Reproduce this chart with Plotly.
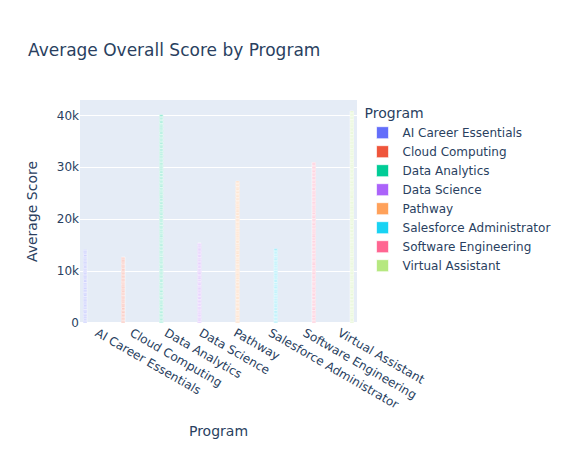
import pandas as pd
import plotly.express as px

programs = ["AI Career Essentials", "Cloud Computing", "Data Analytics", "Data Science",
            "Pathway", "Salesforce Administrator", "Software Engineering", "Virtual Assistant"]

ai_scores = [137,163,152,148,171,129,118,182,145,155, 160,140,127,173,149,151,188,112,134,166,
             142,158,176,124,131,169,155,145,109,191, 168,132,147,153,121,179,139,161,184,116,
             126,174,159,141,193,107,143,157,162,138, 151,149,115,185,178,122,136,164,147,153,
             183,117,140,160,129,171,157,143,119,181, 133,167,172,128,146,154,111,189,165,135,
             154,146,124,176,161,139,187,113,138,162, 119,181,163,137]
cc_scores = [144,156,170,130,128,172,175,125,135,165, 158,142,113,187,150,150,141,159,186,114,
             123,177,148,152,167,133,164,136,117,183, 152,148,139,161,179,121,128,172,155,145,
             174,126,132,168,146,154,147,153,169,131, 108,192,161,139,136,164,189,111,130,170,
             166,134,144,156,122,178,135,165,178,122, 141,159,127,173,157,143,156,144,121,179,
             185,115,150,150,100]
da_scores = [131,169,157,143,182,118,146,154,124,176, 165,135,112,188,153,147,137,163,174,126,
             149,151,178,122,126,174,161,139,143,157, 116,184,144,156,170,130,133,167,158,142,
             187,113,159,141,138,162,121,179,152,148, 142,158,125,175,167,133,180,120,136,164,
             173,127,150,150,114,186,145,155,162,138, 128,172,163,137,155,145,140,160,181,119,
             159,141,136,164,192,108,127,173,147,153, 134,166,171,129,143,157,166,134,118,182,
             176,124,148,152,122,178,153,147,139,161, 110,190,162,138,135,165,172,128,156,144,
             147,153,129,171,177,123,141,159,164,136, 163,137,184,116,132,168,158,142,125,175,
             139,161,151,149,168,132,115,185,146,154, 180,120,126,174,144,156,137,163,171,129,
             121,179,166,134,157,143,175,125,133,167, 155,145,140,160,113,187,149,151,182,118,
             144,156,173,127,130,170,161,139,120,180, 168,132,117,183,162,138,128,172,151,149,
             126,174,154,146,186,114,143,157,135,165, 158,142,131,169,148,152,177,123,116,184,
             137,163,179,121,124,176,156,144,165,135, 191,109,145,155,160,140,134,166,142,158,
             150,150,122,178,171,129,147,153,129,171, 132,168,169,131,139,161,118,182,174,126,
             153,147,164,136,141,159,200]
ds_scores = [162,138,127,173,148,152,181,119,136,164, 145,155,170,130,119,181,157,143,133,167,
             178,122,141,159,163,137,124,176,150,150, 115,185,156,144,139,161,172,128,147,153,
             166,134,131,169,184,116,143,157,128,172, 138,162,175,125,152,148,117,183,160,140,
             154,146,120,180,168,132,146,154,135,165, 129,171,161,139,142,158,189,111,153,147,
             173,127,144,156,125,175,158,142,140,160, 147,153,132,168,177,123,134,166,169,131,
             155,145,100]
pw_scores = [143,157,168,132,121,179,155,145,186,114, 134,166,159,141,147,153,112,188,170,130,
             161,139,125,175,180,120,138,162,149,151, 117,183,174,126,152,148,163,137,131,169,
             156,144,139,161,127,173,188,112,145,155, 172,128,150,150,165,135,122,178,137,163,
             128,172,183,117,141,159,154,146,166,134, 149,151,116,184,176,124,132,168,158,142,
             185,115,145,155,133,167,167,133,124,176, 135,165,162,138,118,182,149,151,179,121,
             160,140,129,171,171,129,142,158,111,189, 122,178,153,147,157,143,178,122,146,154,
             176,124,136,164,144,156,126,174,163,137, 140,160,187,113,130,170,160,140,119,181,
             153,147,120,180,169,131,140,160,184,116, 113,187,148,152,135,165,173,127,152,148,
             167,133,177,123,151,149,130,170,127,173, 130,170,142,158,182,118,156,144,175,125,
             148,152]
sf_scores = [152,148,176,124,133,167,161,139,118,182, 169,131,140,160,185,115,127,173,154,146,
             125,175,158,142,146,154,172,128,137,163, 181,119,132,168,163,137,144,156,120,180,
             141,159,167,133,116,184,155,145,178,122, 157,143,123,177,170,130,136,164,149,151,
             134,166,179,121,143,157,190,110,126,174, 164,136,148,152,129,171,153,147,171,129,
             119,181,160,140,174,126,138,162,145,155, 166,134,131,169,200]
se_scores = [146,154,171,129,124,176,158,142,183,117, 137,163,152,148,167,133,115,185,143,157,
             175,125,128,172,149,151,162,138,131,169, 122,178,160,140,136,164,178,122,154,146,
             163,137,141,159,187,113,127,173,147,153, 130,170,173,127,152,148,144,156,168,132,
             179,121,118,182,165,135,139,161,125,175, 148,152,164,136,114,186,171,129,156,144,
             126,174,135,165,158,142,121,179,182,118, 155,145,180,120,133,167,150,150,140,160,
             171,129,143,157,176,124,134,166,117,183, 113,187,157,143,145,155,166,134,138,162,
             166,134,126,174,161,139,183,117,149,151, 141,159,168,132,123,177,142,158,174,126,
             184,116,137,163,156,144,129,171,160,140, 132,168,153,147,170,130,147,153,119,181,
             159,141,120,180,138,162,165,135,144,156, 124,176,177,123,150,150,112,188,163,137,
             168,132,146,154,126,174,180,120,135,165, 142,158,162,138,181,119,153,147,128,172,
             157,143,134,166,176,124]
va_scores = [158,142,133,167,176,124,141,159,120,180, 147,153,185,115,129,171,162,138,154,146,
             171,129,116,184,150,150,135,165,168,132, 124,176,163,137,142,158,188,112,139,161,
             165,135,148,152,121,179,157,143,173,127, 136,164,179,121,155,145,130,170,146,154,
             182,118,127,173,168,132,144,156,117,183, 151,149,160,140,134,166,175,125,128,172,
             119,181,143,157,186,114,152,148,161,139, 163,137,131,169,147,153,123,177,180,120,
             140,160,174,126,114,186,166,134,149,151, 177,123,152,148,138,162,129,171,157,143,
             128,172,167,133,160,140,183,117,132,168, 154,146,122,178,172,128,145,155,169,131,
             133,167,158,142,125,175,137,163,187,113, 169,131,145,155,181,119,153,147,118,182,
             117,183,176,124,139,161,164,136,143,157, 148,152,130,170,164,136,126,174,175,125,
             180,120,156,144,127,173,150,150,135,165, 126,174,140,160,170,130,178,122,153,147,
             162,138,184,116,143,157,131,169,122,178, 139,161,125,175,157,143,167,133,148,152,
             173,127,149,151,132,168,115,185,166,134, 131,169,170,130,151,149,158,142,140,160,
             155,145,118,182,179,121,136,164,174,126, 144,156,166,134,123,177,172,128,130,170,
             186,114,137,163,162,138,147,153,159,141, 152,148]

score_lists = [ai_scores, cc_scores, da_scores, ds_scores, pw_scores, sf_scores, se_scores, va_scores]

rows = []
for prog, scores in zip(programs, score_lists):
    for s in scores:
        rows.append({"Program": prog, "Average Score": s})
df = pd.DataFrame(rows)

fig = px.bar(df, x="Program", y="Average Score", color="Program", barmode="group",
             title="Average Overall Score by Program")
fig.update_traces(marker_line_width=0.65, marker_line_color="white")
fig.update_layout(
    width=552, height=434,
    font_family="DejaVu Sans",
    title=dict(x=20 / 552, xanchor="left", y=1 - 42 / 434, yanchor="middle"),
    margin=dict(l=72, r=203, t=92, b=119, autoexpand=False),
    legend=dict(x=1.02, y=1, xanchor="left", yanchor="top"),
)
fig.update_xaxes(automargin=False)
fig.update_yaxes(automargin=False)
fig.write_html("out.html")
